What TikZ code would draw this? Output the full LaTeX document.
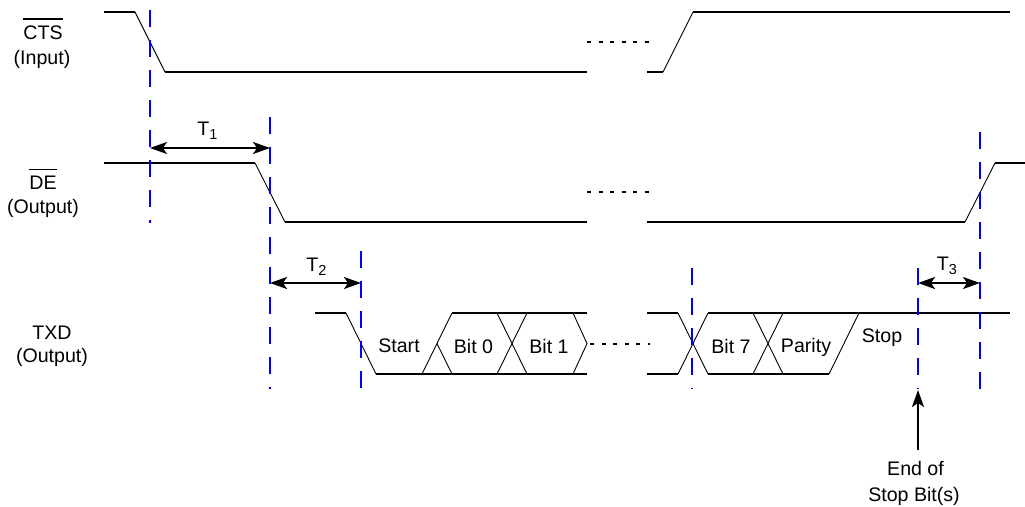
\documentclass[tikz,border=0pt]{standalone}
\usepackage{fontspec}
\setmainfont{Liberation Sans}
\usetikzlibrary{arrows.meta}
\newcommand{\mysub}[1]{\raisebox{-4.5pt}{\fontsize{14.5}{15}\selectfont #1}}
\begin{document}
\begin{tikzpicture}[x=1pt,y=-1pt,
  sig/.style={line width=2pt},
  edge/.style={line width=0.9pt},
  guide/.style={blue, line width=2.6pt, dash pattern=on 17pt off 13pt},
  dots/.style={line width=2pt, dash pattern=on 4pt off 7.5pt},
  dim/.style={line width=2pt, {Stealth[length=17pt,width=12pt,inset=4pt]}-{Stealth[length=17pt,width=12pt,inset=4pt]}},
  lbl/.style={inner sep=0pt, font=\fontsize{19.6}{22}\selectfont},
  ovl/.style={line width=1.6pt},
  ]
\useasboundingbox (0,0) rectangle (1025,506);

% ---- signal labels
\node[lbl] (cts)   at (43,32.5) {CTS};
\node[lbl] (ctsio) at (42,59)   {(Input)};
\node[lbl] (de)    at (43,183)  {DE};
\node[lbl] (deio)  at (43,208)  {(Output)};
\node[lbl] (txd)   at (52,333)  {TXD};
\node[lbl] (txdio) at (52,357.5){(Output)};
\draw[ovl] ([yshift=6.5pt]cts.north west) -- ([yshift=6.5pt]cts.north east);
\draw[ovl] ([yshift=6.5pt]de.north west) -- ([yshift=6.5pt]de.north east);

% ---- CTS waveform
\draw[sig]  (104,12) -- (135,12);
\draw[edge] (135,12) -- (165,72);
\draw[sig]  (165,72) -- (587,72);
\draw[dots] (587,42) -- (650,42);
\draw[sig]  (647,72) -- (663,72);
\draw[edge] (663,72) -- (693,12);
\draw[sig]  (693,12) -- (1010,12);

% ---- DE waveform
\draw[sig]  (104,163) -- (255,163);
\draw[edge] (255,163) -- (285,222);
\draw[sig]  (285,222) -- (587,222);
\draw[dots] (587,192) -- (650,192);
\draw[sig]  (647,222) -- (965,222);
\draw[edge] (965,222) -- (995,163);
\draw[sig]  (995,163) -- (1025,163);

% ---- TXD waveform
\draw[sig]  (315,313) -- (346,313);
\draw[edge] (346,313) -- (376,374);
\draw[sig]  (376,374) -- (587,374);
\draw[sig]  (452,313) -- (587,313);
\draw[edge] (422,374) -- (452,313);
\draw[edge] (437,343.5) -- (452,374);
\draw[edge] (497,313) -- (527,374);
\draw[edge] (497,374) -- (527,313);
\draw[edge] (573,313) -- (587,343.5) -- (573,374);
\draw[dots] (590,343.5) -- (650,343.5);
\draw[sig]  (647,313) -- (678,313);
\draw[sig]  (647,374) -- (678,374);
\draw[edge] (678,313) -- (708,374);
\draw[edge] (678,374) -- (708,313);
\draw[sig]  (708,313) -- (1010,313);
\draw[sig]  (708,374) -- (829,374);
\draw[edge] (753,313) -- (783,374);
\draw[edge] (753,374) -- (783,313);
\draw[edge] (829,374) -- (859,313);

\node[lbl] (start)  at (399,346)   {Start};
\node[lbl] (bit0)   at (473.5,346) {Bit 0};
\node[lbl] (bit1)   at (549,346)   {Bit 1};
\node[lbl] (bit7)   at (731,346)   {Bit 7};
\node[lbl] (parity) at (806,347)   {Parity};
\node[lbl] (stop)   at (882,338)   {Stop};

% ---- guide lines
\coordinate (g1t) at (150,10);  \coordinate (g1b) at (150,223);
\coordinate (g2t) at (270,117); \coordinate (g2b) at (270,389);
\coordinate (g3t) at (361,251); \coordinate (g3b) at (361,389);
\coordinate (g4t) at (692,268); \coordinate (g4b) at (692,389);
\coordinate (g5t) at (918,268); \coordinate (g5b) at (918,389);
\coordinate (g6t) at (980,132); \coordinate (g6b) at (980,389);

% ---- timing arrows
\coordinate (t1a) at (150,148); \coordinate (t1b) at (270,148);
\coordinate (t2a) at (270,283); \coordinate (t2b) at (361,283);
\coordinate (t3a) at (918,283); \coordinate (t3b) at (980,283);
\draw[dim] (t1a) -- (t1b);
\draw[dim] (t2a) -- (t2b);
\draw[dim] (t3a) -- (t3b);
\node[lbl] (t1) at (207.5,131) {T\mysub{1}};
\node[lbl] (t2) at (316.5,267) {T\mysub{2}};
\node[lbl] (t3) at (947,266)   {T\mysub{3}};

\draw[guide] (g1t) -- (g1b);
\draw[guide] (g2t) -- (g2b);
\draw[guide] (g3t) -- (g3b);
\draw[guide] (g4t) -- (g4b);
\draw[guide] (g5t) -- (g5b);
\draw[guide] (g6t) -- (g6b);

% ---- end of stop bit
\node[lbl] (eos1) at (915.5,468) {End of};
\node[lbl] (eos2) at (914,496)   {Stop Bit(s)};
\coordinate (eostip) at (918,390);
\coordinate (eosbase) at (918,450);
\draw[line width=2pt,-{Stealth[length=17pt,width=12pt,inset=4pt]}] (eosbase) -- (eostip);
\end{tikzpicture}
\end{document}
